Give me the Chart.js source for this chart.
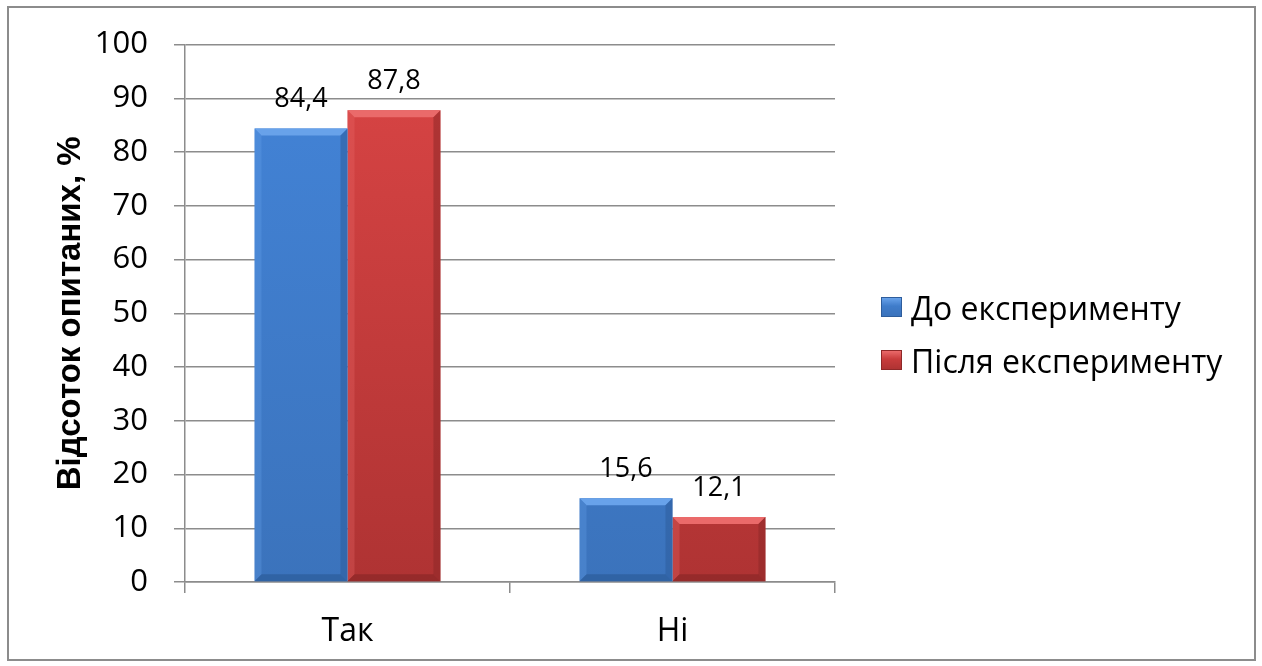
<!DOCTYPE html>
<html lang="uk">
<head>
<meta charset="utf-8">
<title>Відсоток опитаних</title>
<script src="https://cdn.jsdelivr.net/npm/chart.js@4.4.1/dist/chart.umd.min.js"></script>
<style>
  html, body { margin: 0; padding: 0; background: #fff; }
  #wrap { position: relative; width: 1262px; height: 666px; }
  #frame {
    position: absolute; left: 7px; top: 6px; width: 1245px; height: 651px;
    border: 2px solid #8c8c8c; pointer-events: none;
  }
  #chart { position: absolute; left: 0; top: 0; }
  #legend {
    position: absolute; left: 881px; top: 285px;
    font-family: "Open Sans", "Noto Sans", sans-serif; font-size: 32px; color: #000;
  }
  #legend .item { display: flex; align-items: center; height: 44px; margin-bottom: 9px; white-space: nowrap; }
  #legend .box { width: 21px; height: 20px; margin-right: 9px; box-sizing: border-box; }
</style>
</head>
<body>
<div id="wrap">
  <canvas id="chart" width="1262" height="666"></canvas>
  <div id="legend"></div>
  <div id="frame"></div>
</div>
<script>
// --- Data ---
const categories = ['Так', 'Ні'];
const seriesNames = ['До експерименту', 'Після експерименту'];
const beforeValues = [84.4, 15.6];
const afterValues = [87.8, 12.1];
const yTicks = { min: 0, max: 100, step: 10 };

// --- Styles ---
const FONT = '"Open Sans", "Noto Sans", sans-serif';
const GRID = '#8c8c8c';
const PALETTE = [
  { top: '#4384d8', bottom: '#3b73bc', light: '#68a2ea', dark: '#2e5d9c', legend: '#3f7cca' },
  { top: '#da4545', bottom: '#af3333', light: '#ea6a6a', dark: '#8e2828', legend: '#c83c3c' }
];

// plot box edges (px)
const PLOT_LEFT = 185;
const PLOT_BOTTOM = 582;
const PAD_LEFT = 40;

function faceGradient(idx) {
  return (context) => {
    const { chart } = context;
    const area = chart.chartArea;
    if (!area) return PALETTE[idx].top;
    const g = chart.ctx.createLinearGradient(0, area.top, 0, area.bottom);
    g.addColorStop(0, PALETTE[idx].top);
    g.addColorStop(1, PALETTE[idx].bottom);
    return g;
  };
}

function formatUa(v) {
  return v.toFixed(1).replace('.', ',');
}

// bevelled edges over each bar, using the bar geometry from the scales
const bevel = {
  id: 'bevel',
  afterDatasetDraw(chart, args) {
    const ctx = chart.ctx;
    const pal = PALETTE[args.index];
    args.meta.data.forEach(bar => {
      const w = bar.width;
      const l = bar.x - w / 2, r = bar.x + w / 2;
      const t = bar.y, b = bar.base;
      const e = Math.min(7, (b - t) / 3);
      ctx.save();
      // top
      ctx.fillStyle = pal.light;
      ctx.beginPath();
      ctx.moveTo(l, t); ctx.lineTo(r, t); ctx.lineTo(r - e, t + e); ctx.lineTo(l + e, t + e);
      ctx.closePath(); ctx.fill();
      // left
      ctx.globalAlpha = 0.3;
      ctx.beginPath();
      ctx.moveTo(l, t); ctx.lineTo(l + e, t + e); ctx.lineTo(l + e, b - e); ctx.lineTo(l, b);
      ctx.closePath(); ctx.fill();
      // right
      ctx.globalAlpha = 0.55;
      ctx.fillStyle = pal.dark;
      ctx.beginPath();
      ctx.moveTo(r, t); ctx.lineTo(r - e, t + e); ctx.lineTo(r - e, b - e); ctx.lineTo(r, b);
      ctx.closePath(); ctx.fill();
      // bottom
      ctx.globalAlpha = 0.75;
      ctx.beginPath();
      ctx.moveTo(l, b); ctx.lineTo(l + e, b - e); ctx.lineTo(r - e, b - e); ctx.lineTo(r, b);
      ctx.closePath(); ctx.fill();
      ctx.restore();
    });
  }
};

// value labels above the bars
const valueLabels = {
  id: 'valueLabels',
  afterDatasetsDraw(chart) {
    const ctx = chart.ctx;
    ctx.save();
    ctx.font = '27px ' + FONT;
    ctx.fillStyle = '#000';
    ctx.textAlign = 'center';
    ctx.textBaseline = 'middle';
    chart.data.datasets.forEach((ds, i) => {
      chart.getDatasetMeta(i).data.forEach((bar, j) => {
        ctx.fillText(formatUa(ds.data[j]), bar.x, bar.y - 29);
      });
    });
    ctx.restore();
  }
};

new Chart(document.getElementById('chart'), {
  type: 'bar',
  data: {
    labels: categories,
    datasets: [
      { label: seriesNames[0], data: beforeValues, backgroundColor: faceGradient(0) },
      { label: seriesNames[1], data: afterValues, backgroundColor: faceGradient(1) }
    ]
  },
  options: {
    responsive: false,
    animation: false,
    events: [],
    categoryPercentage: 0.572,
    barPercentage: 1,
    layout: { padding: { left: PAD_LEFT, right: 427, top: 26, bottom: 0 } },
    plugins: {
      tooltip: { enabled: false },
      legend: { display: false }
    },
    scales: {
      x: {
        offset: true,
        afterFit: (scale) => { scale.height = 666 - PLOT_BOTTOM; },
        grid: { offset: true, drawOnChartArea: false, drawTicks: true, tickLength: 11, color: GRID, lineWidth: 1.5 },
        border: { color: GRID, width: 1.5 },
        ticks: { color: '#000', font: { family: FONT, size: 32 }, padding: 20 }
      },
      y: {
        min: yTicks.min,
        max: yTicks.max,
        afterFit: (scale) => { scale.width = PLOT_LEFT - PAD_LEFT; },
        ticks: { stepSize: yTicks.step, color: '#000', font: { family: FONT, size: 31 }, padding: 26 },
        grid: { color: GRID, lineWidth: 1.5, tickLength: 11 },
        border: { color: GRID, width: 1.5 },
        title: {
          display: true,
          text: 'Відсоток опитаних, %',
          color: '#000',
          font: { family: '"Liberation Sans", Arial, sans-serif', size: 33, weight: 'bold' },
          padding: { top: 11, bottom: 0 }
        }
      }
    }
  },
  plugins: [bevel, valueLabels]
});

// legend
const legendEl = document.getElementById('legend');
seriesNames.forEach((name, i) => {
  const item = document.createElement('div');
  item.className = 'item';
  item.innerHTML = `<span class="box" style="background: linear-gradient(${PALETTE[i].light}, ${PALETTE[i].legend} 45%, ${PALETTE[i].bottom}); border: 1px solid ${PALETTE[i].dark};"></span><span>${name}</span>`;
  legendEl.appendChild(item);
});
</script>
</body>
</html>
